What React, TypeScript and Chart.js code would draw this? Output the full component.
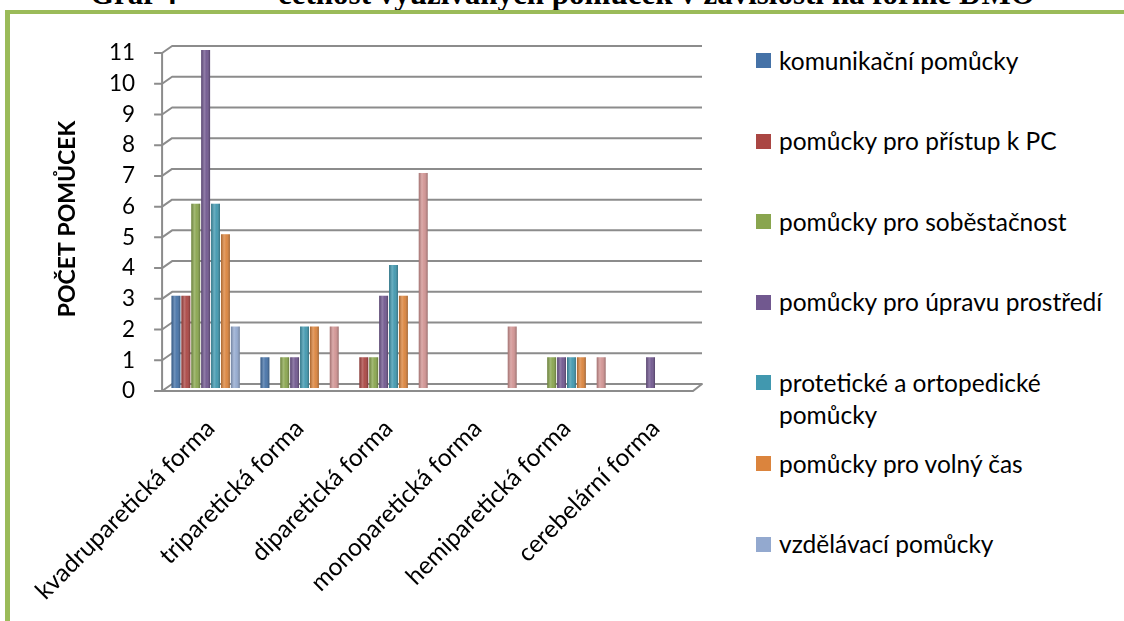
import React, { useEffect, useRef } from 'react';
import { Chart, registerables } from 'chart.js';

Chart.register(...registerables);

const categories = [
  'kvadruparetická forma',
  'triparetická forma',
  'diparetická forma',
  'monoparetická forma',
  'hemiparetická forma',
  'cerebelární forma',
];

const seriesNames = [
  'komunikační pomůcky',
  'pomůcky pro přístup k PC',
  'pomůcky pro soběstačnost',
  'pomůcky pro úpravu prostředí',
  'protetické a ortopedické pomůcky',
  'pomůcky pro volný čas',
  'vzdělávací pomůcky',
  'ostatní pomůcky',
];

const komunikacni = [3, 1, 0, 0, 0, 0];
const pristupPC = [3, 0, 1, 0, 0, 0];
const sobestacnost = [6, 1, 1, 0, 1, 0];
const upravaProstredi = [11, 1, 3, 0, 1, 1];
const proteticke = [6, 2, 4, 0, 1, 0];
const volnyCas = [5, 2, 3, 0, 1, 0];
const vzdelavaci = [2, 0, 0, 0, 0, 0];
const ostatni = [0, 2, 7, 2, 1, 0];

const seriesValues = [komunikacni, pristupPC, sobestacnost, upravaProstredi, proteticke, volnyCas, vzdelavaci, ostatni];
const seriesColors = ['#4572A7', '#AA4643', '#89A54E', '#71588F', '#4198AF', '#DB843D', '#93A9CF', '#D19392'];
const legendCount = 7;

const yTicks = [0, 1, 2, 3, 4, 5, 6, 7, 8, 9, 10, 11];
const yTitle = 'POČET POMŮCEK';
const titleLead = 'Graf 4';
const titleText = 'četnost využívaných pomůcek v závislosti na formě DMO';

const FONT = 'Lato, "Open Sans", sans-serif';

const wallsPlugin = {
  id: 'walls3d',
  beforeDatasetsDraw(chart: any) {
    const { ctx, chartArea, scales } = chart;
    const y = scales.y;
    const xf = chartArea.left - 4;
    const dx = 10;
    const dy = 7;
    const xr = chartArea.right + 2;
    ctx.save();
    ctx.strokeStyle = '#8c8c8c';
    ctx.lineWidth = 2;
    ctx.lineJoin = 'round';
    yTicks.forEach((v) => {
      if (v === 0) return;
      const yf = y.getPixelForValue(v) + 3;
      ctx.beginPath();
      ctx.moveTo(xf - 8, yf);
      ctx.lineTo(xf, yf);
      ctx.lineTo(xf + dx, yf - dy);
      ctx.lineTo(xr, yf - dy);
      ctx.stroke();
    });
    const y0 = y.getPixelForValue(0) + 3;
    ctx.beginPath();
    ctx.moveTo(xf - 8, y0);
    ctx.lineTo(xr - 9, y0);
    ctx.lineTo(xr, y0 - dy);
    ctx.lineTo(xf + dx, y0 - dy);
    ctx.lineTo(xf, y0);
    ctx.stroke();
    ctx.beginPath();
    ctx.moveTo(xf, y.getPixelForValue(yTicks[yTicks.length - 1]) + 3);
    ctx.lineTo(xf, y0);
    ctx.stroke();
    ctx.restore();
  },
  afterDatasetsDraw(chart: any) {
    const { ctx } = chart;
    ctx.save();
    chart.data.datasets.forEach((ds: any, i: number) => {
      const meta = chart.getDatasetMeta(i);
      meta.data.forEach((bar: any, j: number) => {
        if (!ds.data[j]) return;
        const { x, y, base, width } = bar.getProps(['x', 'y', 'base', 'width'], true);
        const l = x - width / 2;
        const g = ctx.createLinearGradient(l, 0, l + width, 0);
        g.addColorStop(0, 'rgba(0,0,0,0.22)');
        g.addColorStop(0.35, 'rgba(255,255,255,0.22)');
        g.addColorStop(0.6, 'rgba(255,255,255,0.05)');
        g.addColorStop(1, 'rgba(0,0,0,0.28)');
        ctx.fillStyle = g;
        ctx.fillRect(l, y, width, base - y);
      });
    });
    ctx.restore();
  },
};

export default function App() {
  const ref = useRef<HTMLCanvasElement | null>(null);

  useEffect(() => {
    if (!ref.current) return;
    const chart = new Chart(ref.current, {
      type: 'bar',
      data: {
        labels: categories,
        datasets: seriesValues.map((vals, i) => ({
          label: seriesNames[i],
          data: vals,
          backgroundColor: seriesColors[i],
          borderWidth: 0,
          barPercentage: 0.9,
          categoryPercentage: 0.89,
        })),
      },
      options: {
        responsive: false,
        animation: false,
        devicePixelRatio: 1,
        layout: { padding: { left: 54, top: 50, right: 40, bottom: 0 } },
        plugins: {
          legend: { display: false },
          tooltip: { enabled: false },
          title: { display: false },
        },
        scales: {
          x: {
            grid: { display: false, drawTicks: false },
            border: { display: false },
            ticks: {
              autoSkip: false,
              minRotation: 45,
              maxRotation: 45,
              padding: 26,
              color: '#000',
              font: { family: FONT, size: 24.5 },
            },
            afterFit(s: any) {
              s.height = 233;
            },
          },
          y: {
            min: 0,
            max: 11,
            grid: { display: false, drawTicks: false },
            border: { display: false },
            ticks: {
              stepSize: 1,
              padding: 31,
              labelOffset: 3,
              color: '#000',
              font: { family: FONT, size: 22.5 },
            },
            title: {
              display: true,
              text: yTitle,
              color: '#000',
              padding: 0,
              font: { family: FONT, size: 23, weight: 'bold' },
            },
            afterFit(s: any) {
              s.width = 112;
            },
          },
        },
      },
      plugins: [wallsPlugin],
    } as any);
    return () => chart.destroy();
  }, []);

  return (
    <div
      style={{
        position: 'fixed',
        left: 0,
        top: 0,
        width: 1124,
        height: 621,
        background: '#fff',
        overflow: 'hidden',
      }}
    >
      <div
        style={{
          position: 'absolute',
          left: 90,
          top: -22,
          font: 'bold 31px "Liberation Serif", "Times New Roman", serif',
          lineHeight: '31px',
          whiteSpace: 'nowrap',
          color: '#000',
        }}
      >
        {titleLead}
      </div>
      <div
        style={{
          position: 'absolute',
          left: 278,
          top: -22,
          font: 'bold 31px "Liberation Serif", "Times New Roman", serif',
          lineHeight: '31px',
          whiteSpace: 'nowrap',
          color: '#000',
        }}
      >
        {titleText}
      </div>
      <div style={{ position: 'absolute', left: 5, top: 10, width: 1119, height: 4, background: '#9BBB59' }} />
      <div style={{ position: 'absolute', left: 5, top: 10, width: 5, height: 611, background: '#9BBB59' }} />
      <canvas ref={ref} width={740} height={621} style={{ position: 'absolute', left: 0, top: 0, width: 740, height: 621 }} />
      {seriesNames.slice(0, legendCount).map((name, i) => {
        const cy = 60.5 + i * 80.6;
        return (
          <div key={name}>
            <div
              style={{
                position: 'absolute',
                left: 756,
                top: cy - 7.5,
                width: 15,
                height: 15,
                background: seriesColors[i],
              }}
            />
            <div
              style={{
                position: 'absolute',
                left: 779,
                top: cy - 16,
                width: 338,
                font: `24.5px ${FONT}`,
                lineHeight: '32px',
                color: '#000',
              }}
            >
              {name}
            </div>
          </div>
        );
      })}
    </div>
  );
}
